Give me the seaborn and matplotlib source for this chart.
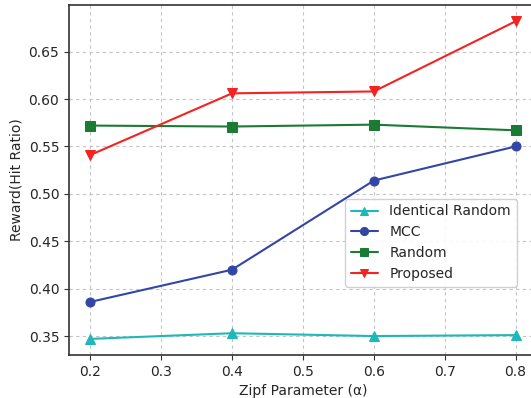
import matplotlib
matplotlib.use('Agg')
import matplotlib.pyplot as plt
import seaborn as sns
import pandas as pd

# 数据
zipf = [0.2, 0.4, 0.6, 0.8]
identical_random = [0.347, 0.353, 0.350, 0.351]
mcc = [0.386, 0.420, 0.514, 0.550]
random_vals = [0.572, 0.571, 0.573, 0.567]
proposed = [0.541, 0.606, 0.608, 0.682]

series = [
    ("Identical Random", identical_random, "#1fb8b8", "^"),
    ("MCC", mcc, "#3346a6", "o"),
    ("Random", random_vals, "#1b7a33", "s"),
    ("Proposed", proposed, "#f52222", "v"),
]

sns.set_style("whitegrid", {"grid.linestyle": "--", "grid.color": "#c4c4c4",
                            "axes.edgecolor": "#333333"})
plt.rcParams['font.family'] = ['DejaVu Sans']

fig = plt.figure(figsize=(5.31, 3.98), dpi=100)
ax = fig.add_axes([0.130, 0.108, 0.881, 0.879])

for name, vals, color, marker in series:
    df = pd.DataFrame({"x": zipf, "y": vals})
    sns.lineplot(data=df, x="x", y="y", ax=ax, color=color, marker=marker,
                 markersize=6.5, linewidth=1.5, markeredgecolor=color, label=name)

ax.set_xticks([0.2, 0.3, 0.4, 0.5, 0.6, 0.7, 0.8])
ax.set_yticks([0.35, 0.40, 0.45, 0.50, 0.55, 0.60, 0.65])
ax.set_xlim(0.17, 0.83)
ax.set_ylim(0.330, 0.699)
ax.set_xlabel("Zipf Parameter (α)", fontsize=10)
ax.set_ylabel("Reward(Hit Ratio)", fontsize=10)
ax.tick_params(labelsize=10, length=3.5, left=True, bottom=True, color="#333333")
for s in ax.spines.values():
    s.set_linewidth(1.2)
ax.grid(True, linestyle=(0, (3, 3)), color="#c4c4c4", linewidth=0.8)

ax.legend(loc="lower left", bbox_to_anchor=(0.59, 0.195), borderaxespad=0,
          fontsize=10, frameon=True, framealpha=0.9, markerscale=0.9)

fig.savefig("out.png", dpi=100)
